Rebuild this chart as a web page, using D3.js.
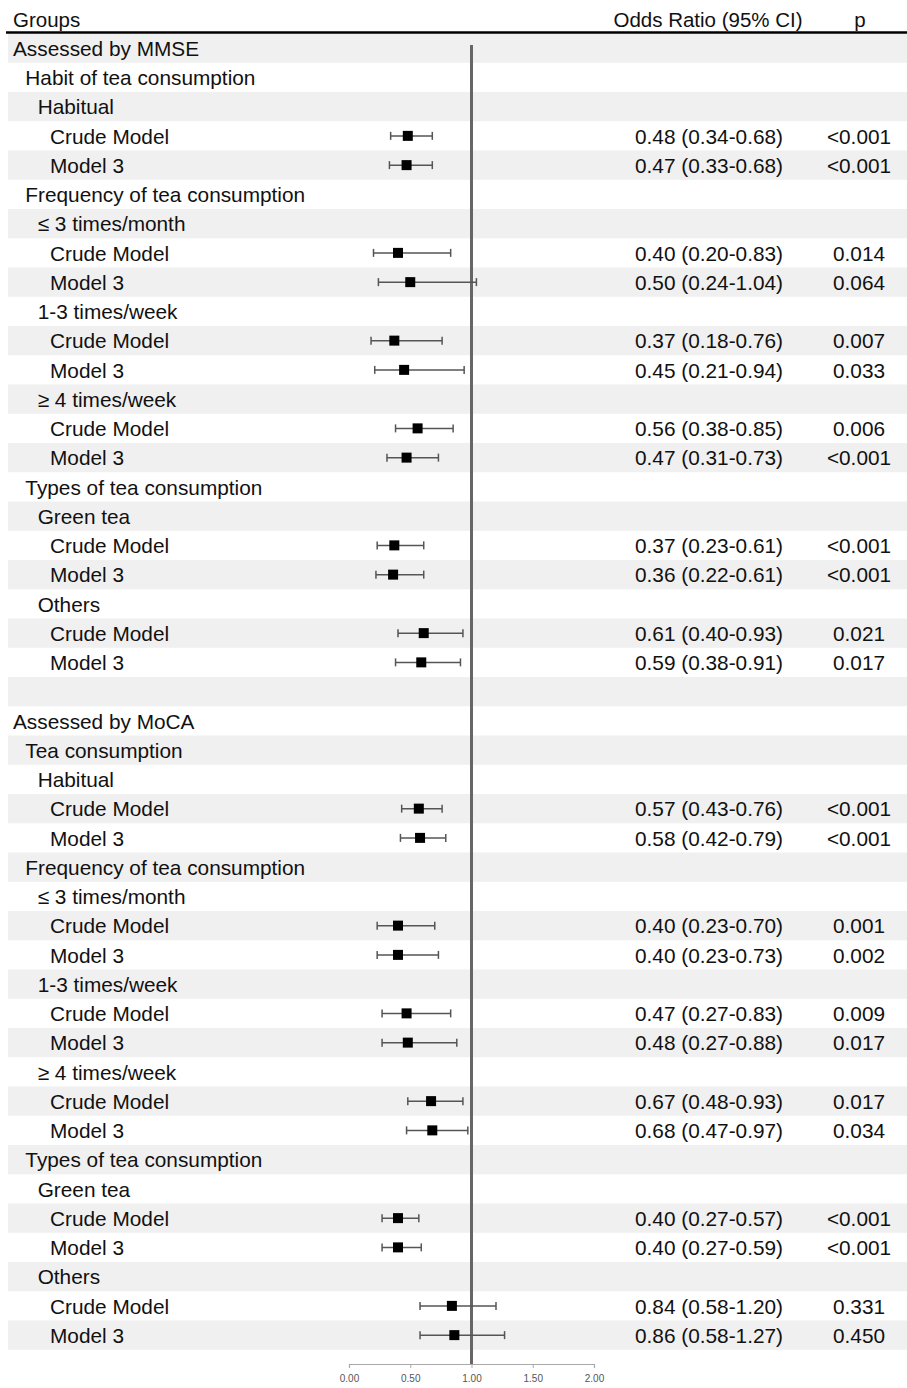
<!DOCTYPE html>
<html lang="en">
<head>
    <meta charset="UTF-8">
    <title>Tea consumption and cognitive impairment - forest plot</title>
    <script src="https://d3js.org/d3.v7.min.js"></script>
    <style>
        body { margin: 0; background: #fff; }
        svg { display: block; font-family: "Liberation Sans", Arial, Helvetica, sans-serif; }
    </style>
</head>
<body>
    <div id="chart"></div>

    <script>
        const width = 907;
        const height = 1388;

        // Row labels and their indent level (0 = assessment, 3 = model)
        const labels = [
            "Assessed by MMSE", "Habit of tea consumption", "Habitual", "Crude Model", "Model 3",
            "Frequency of tea consumption", "≤ 3 times/month", "Crude Model", "Model 3",
            "1-3 times/week", "Crude Model", "Model 3",
            "≥ 4 times/week", "Crude Model", "Model 3",
            "Types of tea consumption", "Green tea", "Crude Model", "Model 3",
            "Others", "Crude Model", "Model 3",
            "",
            "Assessed by MoCA", "Tea consumption", "Habitual", "Crude Model", "Model 3",
            "Frequency of tea consumption", "≤ 3 times/month", "Crude Model", "Model 3",
            "1-3 times/week", "Crude Model", "Model 3",
            "≥ 4 times/week", "Crude Model", "Model 3",
            "Types of tea consumption", "Green tea", "Crude Model", "Model 3",
            "Others", "Crude Model", "Model 3"
        ];
        const levels = [
            0, 1, 2, 3, 3,
            1, 2, 3, 3,
            2, 3, 3,
            2, 3, 3,
            1, 2, 3, 3,
            2, 3, 3,
            0,
            0, 1, 2, 3, 3,
            1, 2, 3, 3,
            2, 3, 3,
            2, 3, 3,
            1, 2, 3, 3,
            2, 3, 3
        ];

        // odds ratios, lower and upper 95% CI, p values (null = heading row)
        const oddsRatio = [
            null, null, null, 0.48, 0.47,
            null, null, 0.40, 0.50,
            null, 0.37, 0.45,
            null, 0.56, 0.47,
            null, null, 0.37, 0.36,
            null, 0.61, 0.59,
            null,
            null, null, null, 0.57, 0.58,
            null, null, 0.40, 0.40,
            null, 0.47, 0.48,
            null, 0.67, 0.68,
            null, null, 0.40, 0.40,
            null, 0.84, 0.86
        ];
        const lower = [
            null, null, null, 0.34, 0.33,
            null, null, 0.20, 0.24,
            null, 0.18, 0.21,
            null, 0.38, 0.31,
            null, null, 0.23, 0.22,
            null, 0.40, 0.38,
            null,
            null, null, null, 0.43, 0.42,
            null, null, 0.23, 0.23,
            null, 0.27, 0.27,
            null, 0.48, 0.47,
            null, null, 0.27, 0.27,
            null, 0.58, 0.58
        ];
        const upper = [
            null, null, null, 0.68, 0.68,
            null, null, 0.83, 1.04,
            null, 0.76, 0.94,
            null, 0.85, 0.73,
            null, null, 0.61, 0.61,
            null, 0.93, 0.91,
            null,
            null, null, null, 0.76, 0.79,
            null, null, 0.70, 0.73,
            null, 0.83, 0.88,
            null, 0.93, 0.97,
            null, null, 0.57, 0.59,
            null, 1.20, 1.27
        ];
        const pValues = [
            null, null, null, "<0.001", "<0.001",
            null, null, "0.014", "0.064",
            null, "0.007", "0.033",
            null, "0.006", "<0.001",
            null, null, "<0.001", "<0.001",
            null, "0.021", "0.017",
            null,
            null, null, null, "<0.001", "<0.001",
            null, null, "0.001", "0.002",
            null, "0.009", "0.017",
            null, "0.017", "0.034",
            null, null, "<0.001", "<0.001",
            null, "0.331", "0.450"
        ];
        const xTicks = [0, 0.5, 1, 1.5, 2];

        const svg = d3.select("#chart")
            .append("svg")
            .attr("width", width)
            .attr("height", height);

        const rowIdx = d3.range(labels.length);

        const y = d3.scaleBand()
            .domain(rowIdx)
            .range([33.5, 33.5 + labels.length * 29.25]);

        const x = d3.scaleLinear()
            .domain([0, 2])
            .range([349, 594]);

        const indent = d3.scaleLinear().domain([0, 3]).range([13, 50]);

        // striped row backgrounds
        svg.append("g")
            .selectAll("rect")
            .data(rowIdx.filter(i => i % 2 === 0))
            .join("rect")
            .attr("x", 8)
            .attr("y", i => y(i))
            .attr("width", width - 8)
            .attr("height", y.bandwidth())
            .attr("fill", "#f0f0f0");

        // header
        const header = svg.append("g").attr("font-size", 20.5).attr("fill", "#111");
        header.append("text").attr("x", 13).attr("y", 26.5).text("Groups");
        header.append("text").attr("x", 708).attr("y", 26.5).attr("text-anchor", "middle").text("Odds Ratio (95% CI)");
        header.append("text").attr("x", 860).attr("y", 26.5).attr("text-anchor", "middle").text("p");
        svg.append("line")
            .attr("x1", 6).attr("x2", width)
            .attr("y1", 32.5).attr("y2", 32.5)
            .attr("stroke", "#000")
            .attr("stroke-width", 2.5);

        // row text
        const rows = svg.append("g")
            .attr("font-size", 20.8)
            .attr("fill", "#111")
            .selectAll("g")
            .data(rowIdx)
            .join("g")
            .attr("transform", i => `translate(0,${y(i) + y.bandwidth() / 2 + 7.8})`);

        rows.append("text")
            .attr("x", i => indent(levels[i]))
            .text(i => labels[i]);

        rows.filter(i => oddsRatio[i] !== null)
            .append("text")
            .attr("x", 709)
            .attr("text-anchor", "middle")
            .text(i => `${oddsRatio[i].toFixed(2)} (${lower[i].toFixed(2)}-${upper[i].toFixed(2)})`);

        rows.filter(i => pValues[i] !== null)
            .append("text")
            .attr("x", 859)
            .attr("text-anchor", "middle")
            .text(i => pValues[i]);

        // x axis
        const axisY = 1364;
        const axis = svg.append("g")
            .attr("transform", `translate(0,${axisY})`)
            .call(d3.axisBottom(x).tickValues(xTicks).tickSize(4).tickFormat(d3.format(".2f")));
        axis.select(".domain").attr("stroke", "#aaa").attr("stroke-width", 1.2);
        axis.selectAll(".tick line").attr("stroke", "#aaa");
        axis.selectAll(".tick text")
            .attr("fill", "#555")
            .attr("font-size", 10)
            .attr("font-family", "Liberation Sans, Arial, sans-serif")
            .attr("y", 11);

        // reference line at OR = 1
        svg.append("line")
            .attr("x1", x(1)).attr("x2", x(1))
            .attr("y1", 45).attr("y2", axisY)
            .attr("stroke", "#666")
            .attr("stroke-width", 3);

        // confidence intervals and point estimates
        const est = svg.append("g")
            .selectAll("g")
            .data(rowIdx.filter(i => oddsRatio[i] !== null))
            .join("g")
            .attr("transform", i => `translate(0,${y(i) + y.bandwidth() / 2})`);

        est.append("line")
            .attr("x1", i => x(lower[i])).attr("x2", i => x(upper[i]))
            .attr("stroke", "#555").attr("stroke-width", 1.5);
        est.append("line")
            .attr("x1", i => x(lower[i])).attr("x2", i => x(lower[i]))
            .attr("y1", -4).attr("y2", 4)
            .attr("stroke", "#555").attr("stroke-width", 1.5);
        est.append("line")
            .attr("x1", i => x(upper[i])).attr("x2", i => x(upper[i]))
            .attr("y1", -4).attr("y2", 4)
            .attr("stroke", "#555").attr("stroke-width", 1.5);
        est.append("rect")
            .attr("x", i => x(oddsRatio[i]) - 5)
            .attr("y", -5)
            .attr("width", 10)
            .attr("height", 10)
            .attr("fill", "#000");
    </script>
</body>
</html>
